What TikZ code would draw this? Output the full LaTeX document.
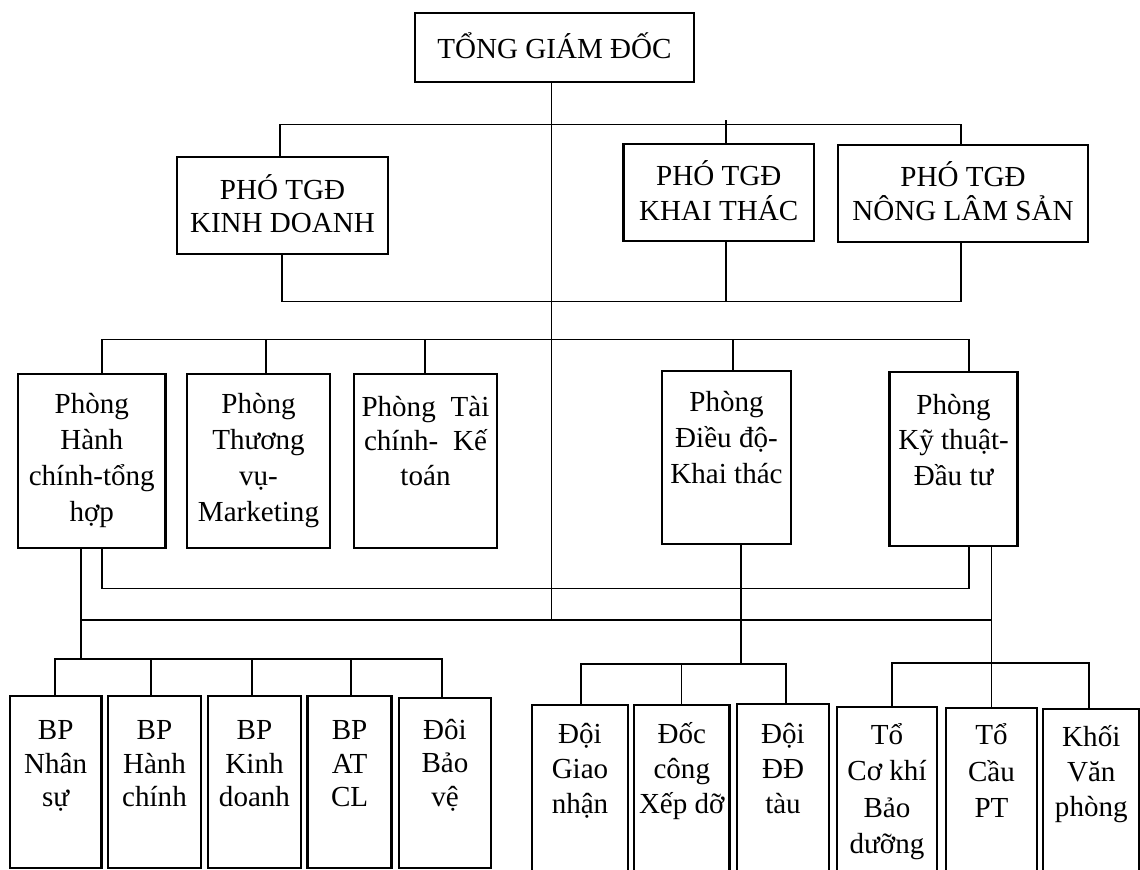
\documentclass[tikz,border=0pt]{standalone}
\usepackage{fontspec}
\setmainfont{Liberation Serif}
\usetikzlibrary{calc}
\newlength\pxu \setlength\pxu{0.75pt}
\newcommand\bt[5][35.5]{\parbox[c][#3\pxu][t]{#2\pxu}{\fontsize{21.8pt}{#1\pxu}\selectfont\vspace*{#4\pxu}\centering\rule{0pt}{32\pxu}#5\par}}
\begin{document}
\begin{tikzpicture}[x=0.75pt,y=-0.75pt,
  box/.style={draw, line width=1.7pt, inner sep=0pt, outer sep=0pt, anchor=north west,
    font=\fontsize{21.8pt}{26.6pt}\selectfont},
  conn/.style={line width=0.8pt},
  connm/.style={line width=1.05pt},
  connb/.style={line width=1.35pt}]
\useasboundingbox (0,0) rectangle (1140,869);
% boxes
\node[box] (tgd) at (415,13) {\bt{279}{69}{13.3}{TỔNG GIÁM ĐỐC}};
\node[box] (kd) at (177,157) {\bt[33]{211}{97}{10.3}{PHÓ TGĐ\\KINH DOANH}};
\node[box] (kt) at (623.5,144) {\bt[35]{190.5}{97}{9}{PHÓ TGĐ\\KHAI THÁC}};
\node[box] (nls) at (838,145) {\bt[33.3]{250}{97}{9.7}{PHÓ TGĐ\\NÔNG LÂM SẢN}};
\node[box] (p1) at (18,374) {\bt[36.1]{147.5}{174}{7.3}{Phòng\\Hành\\chính-tổng\\hợp}};
\node[box] (p2) at (187,374) {\bt[36.1]{143}{174}{7.3}{Phòng\\Thương\\vụ-\\Marketing}};
\node[box] (p3) at (354,374) {\bt[34.9]{143}{174}{10}{\makebox[128\pxu][s]{Phòng Tài}\\\makebox[123\pxu][s]{chính- Kế}\\toán}};
\node[box] (p4) at (662,371) {\bt[35.8]{129}{173}{8.7}{Phòng\\Điều độ-\\Khai thác}};
\node[box] (p5) at (889.6,372) {\bt[35.5]{128}{174}{10}{Phòng\\Kỹ thuật-\\Đầu tư}};
\node[box] (b1) at (9.8,695.7) {\bt[33.7]{91.7}{172}{11.6}{BP\\Nhân\\sự}};
\node[box] (b2) at (108,695.7) {\bt[33.7]{93}{172}{11.6}{BP\\Hành\\chính}};
\node[box] (b3) at (208,695.7) {\bt[33.7]{93}{172}{11.6}{BP\\Kinh\\doanh}};
\node[box] (b4) at (307.6,695.7) {\bt[33.7]{84}{172}{11.6}{BP\\AT\\CL}};
\node[box] (b5) at (399,698) {\bt[33.8]{92}{170}{9}{Đôi\\Bảo\\vệ}};
\node[box] (d1) at (532,705) {\bt[35]{96}{185}{6}{Đội\\Giao\\nhận}};
\node[box] (d2) at (634,704.7) {\bt[35]{95.6}{185}{6.3}{Đốc\\công\\Xếp dỡ}};
\node[box] (d3) at (737,704) {\bt[35]{92}{185}{7}{Đội\\ĐĐ\\tàu}};
\node[box] (t1) at (836.7,706.7) {\bt[36.4]{100.6}{185}{5.6}{Tổ\\Cơ khí\\Bảo\\dưỡng}};
\node[box] (t2) at (945.7,708) {\bt[36.7]{91.6}{185}{4.3}{Tổ\\Cầu\\PT}};
\node[box] (t3) at (1043.3,709) {\bt[35.3]{96}{185}{5}{Khối\\Văn\\phòng}};
% trunk
\coordinate (tr) at (551.6,620);
\draw[conn] (tgd.south -| tr) -- (tr);
% top bus
\coordinate (a1) at (280,124.5);
\coordinate (a2) at (726,120);
\coordinate (a3) at (961,124.5);
\draw[conn] (a1 |- kd.north) -- (a1) -- (a3) -- (a3 |- nls.north);
\draw[conn] (a2) -- (a2 |- kt.north);
% lower bus
\coordinate (c1) at (282,301.5);
\coordinate (c2) at (726,301.5);
\coordinate (c3) at (961,301.5);
\draw[conn] (c1 |- kd.south) -- (c1) -- (c3) -- (c3 |- nls.south);
\draw[conn] (c2 |- kt.south) -- (c2);
% departments bus
\coordinate (e1) at (102,339.5);
\coordinate (e2) at (266,339.5);
\coordinate (e3) at (425,339.5);
\coordinate (e4) at (733,339.5);
\coordinate (e5) at (969,339.5);
\draw[conn] (e1 |- p1.north) -- (e1) -- (e5) -- (e5 |- p5.north);
\draw[conn] (e2) -- (e2 |- p2.north);
\draw[conn] (e3) -- (e3 |- p3.north);
\draw[conn] (e4) -- (e4 |- p4.north);
% return bus
\coordinate (r1) at (102,588.5);
\coordinate (r2) at (969,588.5);
\draw[conn] (r1 |- p1.south) -- (r1) -- (r2) -- (r2 |- p5.south);
% thick bus
\coordinate (g1) at (81,620);
\coordinate (g2) at (991.5,620);
\coordinate (h0) at (81,659);
\draw[connb] (g1) -- (g2);
\draw[conn] (g1 |- p1.south) -- (h0);
% BP bus
\coordinate (h1) at (55,659);
\coordinate (h2) at (151,659);
\coordinate (h3) at (251.6,659);
\coordinate (h4) at (351,659);
\coordinate (h5) at (442,659);
\draw[connb] (h1 |- b1.north) -- (h1) -- (h5) -- (h5 |- b5.north);
\draw[connb] (h2) -- (h2 |- b2.north);
\draw[connb] (h3) -- (h3 |- b3.north);
\draw[connb] (h4) -- (h4 |- b4.north);
% operations bus
\coordinate (i0) at (741,664);
\draw[conn] (i0 |- p4.south) -- (i0);
\coordinate (i1) at (581,664);
\coordinate (i2) at (681.5,664);
\coordinate (i3) at (786,664);
\draw[connm] (i1 |- d1.north) -- (i1) -- (i3) -- (i3 |- d3.north);
\draw[connm] (i2) -- (i2 |- d2.north);
% technical bus
\coordinate (j1) at (892,663);
\coordinate (j2) at (991.5,663);
\coordinate (j3) at (1089,663);
\draw[connb] (j1 |- t1.north) -- (j1) -- (j3) -- (j3 |- t3.north);
\draw[conn] (j2 |- p5.south) -- (j2 |- t2.north);
\end{tikzpicture}
\end{document}
